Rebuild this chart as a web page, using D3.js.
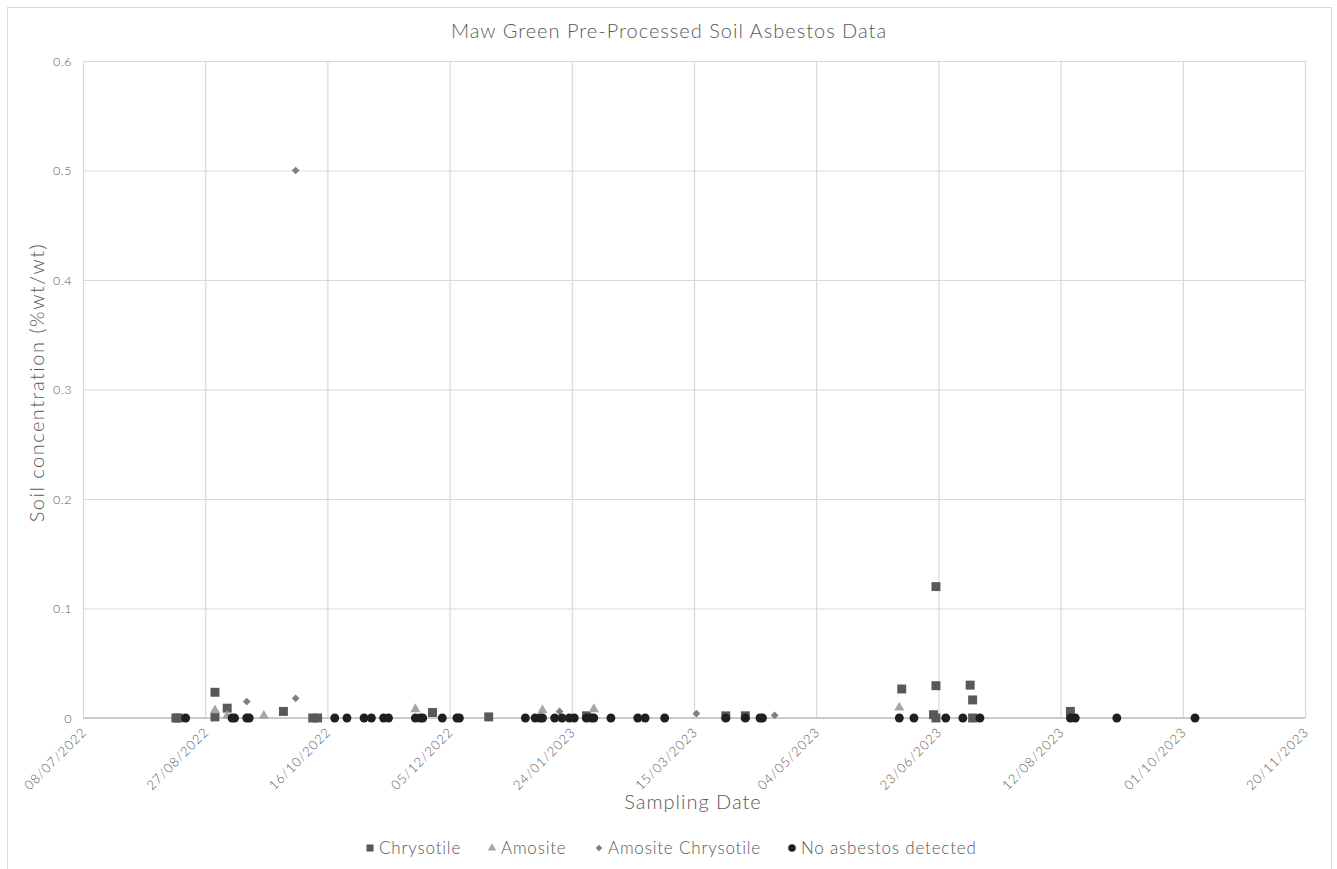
<!DOCTYPE html>
<html>
<head>
<meta charset="utf-8">
<script src="https://cdn.jsdelivr.net/npm/d3@7"></script>
<style>
  html, body { margin: 0; padding: 0; background: #fff; }
  svg { display: block; font-family: "Lato", "Open Sans", sans-serif; }
</style>
</head>
<body>
<svg id="chart" width="1337" height="869"></svg>
<script>
// ---- Data ----
const xTickLabels = ["08/07/2022","27/08/2022","16/10/2022","05/12/2022","24/01/2023","15/03/2023","04/05/2023","23/06/2023","12/08/2023","01/10/2023","20/11/2023"];
const yTickValues = [0, 0.1, 0.2, 0.3, 0.4, 0.5, 0.6];
const seriesNames = ["Chrysotile", "Amosite", "Amosite Chrysotile", "No asbestos detected"];

const chrysotile = [
  ["2022-08-15", 0], ["2022-08-16", 0], ["2022-08-31", 0.0235], ["2022-08-31", 0.001],
  ["2022-09-05", 0.009], ["2022-09-28", 0.006], ["2022-10-10", 0], ["2022-10-12", 0],
  ["2022-11-28", 0.005], ["2022-12-21", 0.001], ["2023-01-30", 0.002], ["2023-03-28", 0.002],
  ["2023-04-05", 0.002], ["2023-06-08", 0.0265], ["2023-06-22", 0.12], ["2023-06-22", 0.0295],
  ["2023-06-21", 0.003], ["2023-06-22", 0], ["2023-07-06", 0.030], ["2023-07-07", 0.0165],
  ["2023-07-07", 0], ["2023-08-16", 0.006]
];
const amosite = [
  ["2022-08-31", 0.007], ["2022-09-05", 0.002], ["2022-09-20", 0.002], ["2022-11-21", 0.008],
  ["2023-01-12", 0.007], ["2023-02-02", 0.008], ["2023-06-07", 0.0095]
];
const amositeChrysotile = [
  ["2022-09-13", 0.015], ["2022-10-03", 0.018], ["2022-10-03", 0.5], ["2023-01-19", 0.006],
  ["2023-03-16", 0.004], ["2023-04-17", 0.0025]
];
const noAsbestos = [
  "2022-08-19","2022-09-07","2022-09-08","2022-09-13","2022-09-14","2022-10-19","2022-10-24",
  "2022-10-31","2022-11-03","2022-11-08","2022-11-10","2022-11-21","2022-11-23","2022-11-24",
  "2022-12-02","2022-12-08","2022-12-09","2023-01-05","2023-01-09","2023-01-11","2023-01-12",
  "2023-01-17","2023-01-20","2023-01-23","2023-01-25","2023-01-30","2023-02-01","2023-02-02",
  "2023-02-09","2023-02-20","2023-02-23","2023-03-03","2023-03-28","2023-04-05","2023-04-11",
  "2023-04-12","2023-06-07","2023-06-13","2023-06-26","2023-07-03","2023-07-10","2023-08-16",
  "2023-08-18","2023-09-04","2023-10-06"
].map(d => [d, 0]);

// ---- Layout ----
const svg = d3.select("#chart");
const plot = { left: 83, right: 1305, top: 61, bottom: 718 };
const parse = d3.utcParse("%Y-%m-%d");
const parseLbl = d3.utcParse("%d/%m/%Y");
const fmtLbl = d3.utcFormat("%d/%m/%Y");

const xTicks = xTickLabels.map(parseLbl);
const x = d3.scaleUtc().domain([xTicks[0], xTicks[xTicks.length - 1]]).range([plot.left, plot.right]);
const y = d3.scaleLinear().domain([0, 0.6]).range([plot.bottom, plot.top]);

const textColor = "#595959";
const gridColor = "#d9d9d9";

// chart border
svg.append("rect").attr("x", 7.5).attr("y", 7.5).attr("width", 1324).attr("height", 862)
  .attr("fill", "#fff").attr("stroke", gridColor).attr("stroke-width", 1);

// title
svg.append("text").attr("x", 669).attr("y", 38).attr("text-anchor", "middle")
  .attr("font-size", 20).attr("font-weight", 300).attr("letter-spacing", 1).attr("fill", textColor)
  .text("Maw Green Pre-Processed Soil Asbestos Data");

// gridlines Y
const gy = svg.append("g")
  .attr("transform", `translate(${plot.left},0)`)
  .call(d3.axisLeft(y).tickValues(yTickValues).tickSize(-(plot.right - plot.left)).tickPadding(11)
    .tickFormat(d => d === 0 ? "0" : d3.format(".1f")(d)));
gy.select(".domain").remove();
gy.selectAll(".tick line").attr("stroke", gridColor).attr("stroke-width", 1.2);
gy.selectAll(".tick text").attr("fill", textColor).attr("font-size", 12.5).attr("font-weight", 300)
  .attr("font-family", "Lato, sans-serif").attr("letter-spacing", 0.5);

// gridlines X
const gx = svg.append("g")
  .attr("transform", `translate(0,${plot.bottom})`)
  .call(d3.axisBottom(x).tickValues(xTicks).tickSize(-(plot.bottom - plot.top)).tickFormat(fmtLbl));
gx.select(".domain").remove();
gx.selectAll(".tick line").attr("stroke", gridColor).attr("stroke-width", 1.2);
gx.selectAll(".tick text")
  .attr("fill", textColor).attr("font-size", 13).attr("font-weight", 300)
  .attr("font-family", "Lato, sans-serif").attr("letter-spacing", 1)
  .attr("text-anchor", "end").attr("dy", null).attr("y", 0)
  .attr("transform", "translate(4,15) rotate(-45)");

// zero axis line
svg.append("line").attr("x1", plot.left).attr("x2", plot.right)
  .attr("y1", y(0)).attr("y2", y(0)).attr("stroke", "#bfbfbf").attr("stroke-width", 1.5);

// axis titles
svg.append("text").attr("x", 693).attr("y", 809).attr("text-anchor", "middle")
  .attr("font-size", 20).attr("font-weight", 300).attr("letter-spacing", 1).attr("fill", textColor)
  .text("Sampling Date");
svg.append("text").attr("transform", `translate(44,${(plot.top + plot.bottom) / 2 - 7}) rotate(-90)`)
  .attr("text-anchor", "middle").attr("font-size", 20).attr("font-weight", 300).attr("letter-spacing", 1.5)
  .attr("fill", textColor)
  .text("Soil concentration (%wt/wt)");

// ---- Markers ----
const diamond = { draw(ctx, size) { const r = Math.sqrt(size / 2); ctx.moveTo(0, -r); ctx.lineTo(r, 0); ctx.lineTo(0, r); ctx.lineTo(-r, 0); ctx.closePath(); } };
const styles = [
  { data: chrysotile, type: d3.symbolSquare, size: 80, color: "#595959" },
  { data: amosite, type: d3.symbolTriangle, size: 45, color: "#a6a6a6" },
  { data: amositeChrysotile, type: diamond, size: 30, color: "#7f7f7f" },
  { data: noAsbestos, type: d3.symbolCircle, size: 62, color: "#1f1f1f" }
];

styles.forEach(s => {
  svg.append("g").selectAll("path").data(s.data).join("path")
    .attr("transform", d => `translate(${x(parse(d[0]))},${y(d[1])})`)
    .attr("d", d3.symbol().type(s.type).size(s.size))
    .attr("fill", s.color);
});

// ---- Legend ----
const legendX = [370, 492, 599, 792];
const legend = svg.append("g");
seriesNames.forEach((name, i) => {
  const s = styles[i];
  const lsz = [50, 30, 22, 45][i];
  legend.append("path")
    .attr("transform", `translate(${legendX[i]},${848})`)
    .attr("d", d3.symbol().type(s.type).size(lsz)).attr("fill", s.color);
  legend.append("text").attr("x", legendX[i] + 9).attr("y", 854)
    .attr("font-size", 17).attr("font-weight", 300).attr("letter-spacing", 0.8).attr("fill", textColor).text(name);
});
</script>
</body>
</html>
